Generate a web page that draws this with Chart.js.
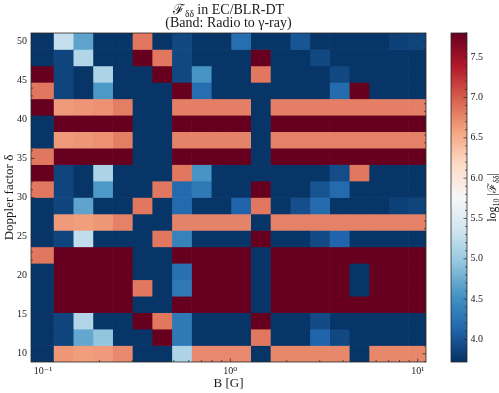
<!DOCTYPE html>
<html><head><meta charset="utf-8">
<script src="https://cdn.jsdelivr.net/npm/chart.js@4/dist/chart.umd.min.js"></script>
<style>html,body{margin:0;padding:0;background:#fff}</style>
</head><body>
<canvas id="c" width="499" height="393"></canvas>
<script>
// ---- data ----
const bValues = [0.1, 0.12743, 0.16238, 0.20691, 0.26367, 0.33598, 0.42813, 0.54556, 0.69519, 0.88587,
                 1.12884, 1.43845, 1.83298, 2.33572, 2.97635, 3.79269, 4.83293, 6.15848, 7.84760, 10];
const deltaValues = [10, 12.105, 14.211, 16.316, 18.421, 20.526, 22.632, 24.737, 26.842, 28.947,
                     31.053, 33.158, 35.263, 37.368, 39.474, 41.579, 43.684, 45.789, 47.895, 50];
// log10|F_δδ| ; rows follow deltaValues (bottom -> top), columns follow bValues
const logF = [
  [3.76,6.66,6.62,6.64,6.74,3.76,3.76,5.12,6.74,6.74,6.74,3.76,6.75,6.75,6.75,6.75,3.76,6.75,6.75,6.75],
  [3.76,3.87,4.70,4.95,3.76,3.76,7.80,4.30,3.76,3.76,3.76,6.85,3.76,3.76,4.12,3.90,3.76,3.76,3.76,3.76],
  [3.76,3.87,5.15,3.76,3.76,7.80,6.85,4.30,3.76,3.76,3.76,7.80,3.76,3.76,3.92,3.76,3.76,3.76,3.76,3.76],
  [3.76,7.80,7.80,7.80,7.80,3.76,3.76,7.80,7.80,7.80,7.80,3.76,7.80,7.80,7.80,7.80,7.80,7.80,7.80,7.80],
  [3.76,7.80,7.80,7.80,7.80,6.85,3.76,4.30,7.80,7.80,7.80,3.76,7.80,7.80,7.80,7.80,3.76,7.80,7.80,7.80],
  [3.76,7.80,7.80,7.80,7.80,3.76,3.76,4.22,7.80,7.80,7.80,3.76,7.80,7.80,7.80,7.80,3.76,7.80,7.80,7.80],
  [6.85,7.80,7.80,7.80,7.80,3.76,3.76,7.80,7.80,7.80,7.80,3.76,7.80,7.80,7.80,7.80,7.80,7.80,7.80,7.80],
  [3.76,3.87,5.25,3.76,3.76,3.76,6.85,4.38,3.76,3.76,3.76,7.80,3.76,3.76,3.92,4.12,3.76,3.76,3.76,3.76],
  [3.76,6.64,6.62,6.66,6.79,3.76,3.76,6.78,6.78,6.78,6.78,3.76,6.79,6.79,6.79,6.79,6.79,6.79,6.79,6.79],
  [3.76,3.87,4.67,3.76,3.76,6.85,3.76,4.17,3.76,3.76,4.12,6.85,3.76,3.95,4.17,3.76,3.76,3.76,3.84,3.87],
  [6.85,3.87,3.76,4.58,3.76,3.76,6.85,4.17,4.30,3.76,3.76,7.80,3.76,3.76,3.98,4.17,3.76,3.76,3.76,3.76],
  [7.80,3.87,3.76,5.12,3.76,3.76,3.76,6.85,4.55,3.76,3.76,3.76,3.76,3.76,3.76,3.93,6.85,3.76,3.76,3.76],
  [6.85,7.80,7.80,7.80,7.80,3.76,3.76,7.80,7.80,7.80,7.80,3.76,7.80,7.80,7.80,7.80,7.80,7.80,7.80,7.80],
  [3.76,6.64,6.66,6.69,6.81,3.76,3.76,6.78,6.78,6.78,6.78,3.76,6.79,6.79,6.79,6.79,6.79,6.79,6.79,6.79],
  [3.76,7.80,7.80,7.80,7.80,3.76,3.76,7.80,7.80,7.80,7.80,3.76,7.80,7.80,7.80,7.80,7.80,7.80,7.80,7.80],
  [7.80,6.64,6.67,6.69,6.81,3.76,3.76,6.80,6.80,6.80,6.80,3.76,6.80,6.80,6.80,6.80,6.80,6.80,6.80,6.80],
  [6.85,3.87,3.76,4.58,3.76,3.76,3.76,7.80,4.20,3.76,3.76,3.76,3.76,3.76,3.76,4.18,7.80,3.76,3.76,3.76],
  [7.80,3.87,3.76,5.12,3.76,3.76,7.80,3.90,4.55,3.76,3.76,6.85,3.76,3.76,3.76,3.90,3.76,3.76,3.76,3.76],
  [3.76,3.87,5.15,3.76,3.76,7.80,6.85,3.90,3.76,3.76,3.76,7.80,3.76,3.76,3.90,3.76,3.76,3.76,3.76,3.76],
  [3.76,5.28,4.67,3.76,3.76,6.85,3.76,3.90,3.76,3.76,4.20,3.76,3.76,4.00,3.76,3.76,3.76,3.76,3.84,3.87]
];
const xMajorTicks = [0.1, 1, 10];
const xTickLabels = ['10\u207B\u00B9', '10\u2070', '10\u00B9'];
const yMajorTicks = [10, 15, 20, 25, 30, 35, 40, 45, 50];
const cbarTicks = [4.0, 4.5, 5.0, 5.5, 6.0, 6.5, 7.0, 7.5];
const vmin = 3.72, vmax = 7.80;
const titleLine1 = [{t: '\u2131'}, {t: '\u03B4\u03B4', sub: true}, {t: ' in EC/BLR-DT'}];
const titleLine2 = [{t: '(Band: Radio to \u03B3-ray)'}];
const cbarLabel = [{t: 'log'}, {t: '10', sub: true}, {t: ' |\u2131'}, {t: '\u03B4\u03B4', sub: true}, {t: '|'}];
const xTitle = 'B [G]';
const yTitle = 'Doppler factor \u03B4';

// ---- colormap (RdBu_r) ----
const rdbuR = ['#053061','#2166ac','#4393c3','#92c5de','#d1e5f0','#f7f7f7','#fddbc7','#f4a582','#d6604d','#b2182b','#67001f'];
const stops = rdbuR.map(h => [parseInt(h.slice(1,3),16), parseInt(h.slice(3,5),16), parseInt(h.slice(5,7),16)]);
function cmap(v) {
  let t = (v - vmin) / (vmax - vmin); t = Math.max(0, Math.min(1, t));
  const p = t * (stops.length - 1);
  const i = Math.min(Math.floor(p), stops.length - 2), f = p - i;
  const a = stops[i], b = stops[i + 1];
  return 'rgb(' + [0,1,2].map(k => Math.round(a[k] + (b[k] - a[k]) * f)).join(',') + ')';
}
function edgesOf(v) {
  const n = v.length, e = [v[0] - (v[1] - v[0]) / 2];
  for (let i = 0; i < n - 1; i++) e.push((v[i] + v[i + 1]) / 2);
  e.push(v[n - 1] + (v[n - 1] - v[n - 2]) / 2);
  return e;
}
const bEdges = edgesOf(bValues);
const dEdges = edgesOf(deltaValues);

const SERIF = "'Liberation Serif','DejaVu Serif',serif";
const INK = '#1a1a1a';
Chart.defaults.font.family = SERIF;
Chart.defaults.color = INK;

const datasets = bValues.map((b, i) => ({
  data: deltaValues.map(d => ({x: [bEdges[i], bEdges[i + 1]], y: d})),
  backgroundColor: deltaValues.map((d, j) => cmap(logF[j][i])),
  borderWidth: 0,
  grouped: false,
  barPercentage: 1,
  categoryPercentage: 1
}));

function drawRich(ctx, parts, x, y, size, subSize, subDrop) {
  let w = 0;
  parts.forEach(p => { ctx.font = (p.sub ? subSize : size) + 'px ' + SERIF; p.w = ctx.measureText(p.t).width; w += p.w; });
  let cx = x - w / 2;
  ctx.textAlign = 'left'; ctx.textBaseline = 'alphabetic';
  parts.forEach(p => {
    ctx.font = (p.sub ? (subSize + 'px ') : (size + 'px ')) + SERIF;
    ctx.fillText(p.t, cx, y + (p.sub ? subDrop : 0));
    cx += p.w;
  });
}

const decor = {
  id: 'decor',
  afterDraw(chart) {
    const ctx = chart.ctx, a = chart.chartArea, xs = chart.scales.x, ys = chart.scales.y;
    ctx.save();
    ctx.strokeStyle = '#2a2a2a'; ctx.lineWidth = 0.8;
    ctx.strokeRect(a.left, a.top, a.right - a.left, a.bottom - a.top);
    const seg = (x1, y1, x2, y2) => { ctx.beginPath(); ctx.moveTo(x1, y1); ctx.lineTo(x2, y2); ctx.stroke(); };
    ctx.lineWidth = 0.7;
    // x ticks (inward, both sides)
    xMajorTicks.forEach(v => { const px = xs.getPixelForValue(v); seg(px, a.bottom, px, a.bottom - 3.5); seg(px, a.top, px, a.top + 3.5); });
    for (let e = -2; e <= 1; e++) for (let m = 2; m <= 9; m++) {
      const v = m * Math.pow(10, e); if (v < xs.min || v > xs.max) continue;
      const px = xs.getPixelForValue(v); seg(px, a.bottom, px, a.bottom - 2); seg(px, a.top, px, a.top + 2);
    }
    // y ticks
    yMajorTicks.forEach(v => { const py = ys.getPixelForValue(v); seg(a.left, py, a.left + 3.5, py); seg(a.right, py, a.right - 3.5, py); });
    for (let v = Math.ceil(ys.min); v <= ys.max; v++) {
      if (v % 5 === 0) continue;
      const py = ys.getPixelForValue(v); seg(a.left, py, a.left + 2, py); seg(a.right, py, a.right - 2, py);
    }
    // colorbar
    const cx = a.right + 25, cw = 16, top = a.top, bot = a.bottom;
    const g = ctx.createLinearGradient(0, bot, 0, top);
    rdbuR.forEach((c, i) => g.addColorStop(i / (rdbuR.length - 1), c));
    ctx.fillStyle = g; ctx.fillRect(cx, top, cw, bot - top);
    ctx.lineWidth = 0.8; ctx.strokeRect(cx, top, cw, bot - top);
    const cy = v => bot - (v - vmin) / (vmax - vmin) * (bot - top);
    ctx.lineWidth = 0.7;
    for (let k = Math.ceil(vmin * 10); k <= Math.floor(vmax * 10); k++) {
      const py = cy(k / 10); seg(cx + cw, py, cx + cw - (k % 5 === 0 ? 3.5 : 2), py);
    }
    ctx.fillStyle = INK; ctx.font = '10px ' + SERIF; ctx.textAlign = 'left'; ctx.textBaseline = 'middle';
    cbarTicks.forEach(v => ctx.fillText(v.toFixed(1), cx + cw + 3.5, cy(v)));
    // colorbar label (rotated)
    ctx.save();
    ctx.translate(cx + cw + 25, (top + bot) / 2); ctx.rotate(-Math.PI / 2);
    drawRich(ctx, cbarLabel, 0, 4, 12, 8, 2.5);
    ctx.restore();
    // title
    ctx.fillStyle = INK;
    const mid = (a.left + a.right) / 2;
    drawRich(ctx, titleLine1, mid, 14, 14, 9.5, 3);
    drawRich(ctx, titleLine2, mid, 27, 14, 9.5, 3);
    ctx.restore();
  }
};

new Chart(document.getElementById('c'), {
  type: 'bar',
  data: {datasets},
  plugins: [decor],
  options: {
    indexAxis: 'y',
    responsive: false,
    devicePixelRatio: 1,
    animation: false,
    layout: {padding: {top: 33, right: 73, left: 0, bottom: 0}},
    plugins: {legend: {display: false}, tooltip: {enabled: false}, title: {display: false}},
    scales: {
      x: {
        type: 'logarithmic',
        min: bEdges[0], max: bEdges[bEdges.length - 1],
        grid: {display: false, drawTicks: false},
        border: {display: false},
        ticks: {
          autoSkip: false, maxRotation: 0, padding: 3,
          font: {size: 10},
          callback: (v) => { const k = xMajorTicks.findIndex(t => Math.abs(t - v) < 1e-9 * Math.max(1, t)); return k >= 0 ? xTickLabels[k] : ''; }
        },
        title: {display: true, text: xTitle, font: {size: 13}, padding: {top: 0, bottom: 1.2}},
        afterFit: s => { s.height = 31; }
      },
      y: {
        type: 'linear',
        offset: false,
        min: dEdges[0], max: dEdges[dEdges.length - 1],
        grid: {display: false, drawTicks: false},
        border: {display: false},
        ticks: {stepSize: 5, includeBounds: false, padding: 4, font: {size: 10},
          callback: v => (yMajorTicks.includes(v) ? String(v) : '')},
        title: {display: true, text: yTitle, font: {size: 13}, padding: {top: 2.2, bottom: 0}},
        afterFit: s => { s.width = 31; }
      }
    }
  }
});
</script>
</body></html>
